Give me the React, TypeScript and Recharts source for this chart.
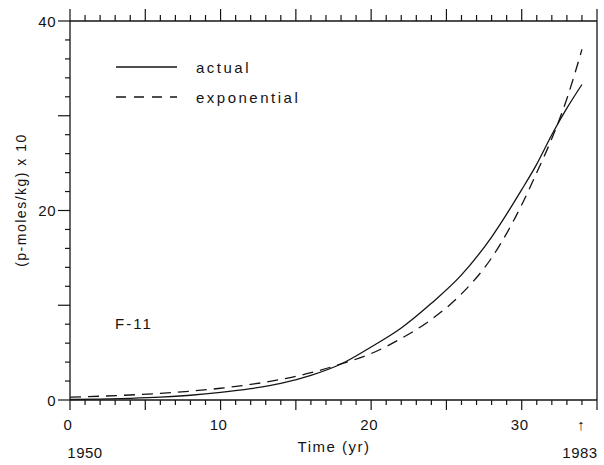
import { LineChart, Line, XAxis, YAxis } from "recharts";

// time since 1950 (yr) and concentration ((p-moles/kg) x 10)
const years = [0, 2, 4, 6, 8, 10, 12, 14, 16, 18, 20, 22, 24, 26, 28, 30, 31, 32, 33, 34];
const actual = [0.05, 0.1, 0.18, 0.3, 0.5, 0.8, 1.2, 1.75, 2.6, 3.8, 5.6, 7.6, 10.2, 13.2, 17.2, 22.2, 24.9, 28.0, 30.8, 33.3];
const exponential = [0.3, 0.4, 0.53, 0.7, 0.93, 1.24, 1.64, 2.17, 2.88, 3.8, 4.9, 6.5, 8.5, 11.2, 15.0, 20.6, 24.0, 27.6, 31.8, 37.0];

const xTicks = [0, 1, 2, 3, 4, 5, 6, 7, 8, 9, 10, 11, 12, 13, 14, 15, 16, 17, 18, 19, 20, 21, 22, 23, 24, 25, 26, 27, 28, 29, 30, 31, 32, 33, 34, 35];
const yTicks = [0, 2, 4, 6, 8, 10, 12, 14, 16, 18, 20, 22, 24, 26, 28, 30, 32, 34, 36, 38, 40];
const xLabelled = [0, 10, 20, 30];
const yLabelled = [0, 20, 40];

const data = years.map((t, i) => ({ t, actual: actual[i], exponential: exponential[i] }));

const FONT = "'Liberation Sans', Arial, sans-serif";
const INK = "#141414";
const DASH = "11 7";
const AXIS_LINE = { stroke: INK, strokeWidth: 1.3 };

const bottomTick = ({ x, y, payload, index }: any) => {
  const v = payload.value;
  const len = v % 5 === 0 ? 10 : 5;
  return (
    <g key={`b${index}`}>
      <line x1={x} y1={y} x2={x} y2={y + len} stroke={INK} strokeWidth={1.2} />
      <text x={x - 2} y={y + 24} textAnchor="middle" dominantBaseline="central" fontSize={15} fontFamily={FONT} fill={INK} letterSpacing={0.5}>
        {xLabelled.includes(v) ? String(v) : ""}
      </text>
    </g>
  );
};

const topTick = ({ x, y, payload, index }: any) => {
  const len = payload.value % 5 === 0 ? 12 : 6;
  return <line key={`t${index}`} x1={x} y1={y} x2={x} y2={y - len} stroke={INK} strokeWidth={1.2} />;
};

const leftTick = ({ x, y, payload, index }: any) => {
  const v = payload.value;
  const len = v % 10 === 0 ? 12 : 5;
  return (
    <g key={`l${index}`}>
      <line x1={x} y1={y} x2={x - len} y2={y} stroke={INK} strokeWidth={1.2} />
      <text x={x - 14} y={y} textAnchor="end" dominantBaseline="central" fontSize={15} fontFamily={FONT} fill={INK} letterSpacing={0.5}>
        {yLabelled.includes(v) ? String(v) : ""}
      </text>
    </g>
  );
};

const rightTick = ({ x, y, index }: any) => (
  <line key={`r${index}`} x1={x} y1={y} x2={x + 5} y2={y} stroke={INK} strokeWidth={1.2} />
);

// legend, panel tag and axis captions, laid over the chart
function Annotations() {
  const txt = { fontFamily: FONT, fill: INK, dominantBaseline: "central" as const };
  return (
    <svg width={604} height={465} style={{ position: "absolute", left: 0, top: 0, pointerEvents: "none" }}>
      <line x1={116} y1={67} x2={177} y2={67} stroke={INK} strokeWidth={1.3} />
      <text x={196} y={67} fontSize={15} letterSpacing={2.5} {...txt}>actual</text>
      <line x1={116} y1={97} x2={177} y2={97} stroke={INK} strokeWidth={1.3} strokeDasharray="10 8" />
      <text x={196} y={97} fontSize={15} letterSpacing={2.5} {...txt}>exponential</text>
      <text x={115} y={323} fontSize={15} letterSpacing={2} {...txt}>F-11</text>
      <text x={334} y={446} fontSize={15} letterSpacing={1.5} textAnchor="middle" {...txt}>Time (yr)</text>
      <text x={85} y={452} fontSize={15} letterSpacing={0.5} textAnchor="middle" {...txt}>1950</text>
      <text x={581} y={424} fontSize={15} textAnchor="middle" {...txt}>↑</text>
      <text x={580} y={452} fontSize={15} letterSpacing={0.5} textAnchor="middle" {...txt}>1983</text>
      <text x={21} y={200} fontSize={14} letterSpacing={1.5} textAnchor="middle" transform="rotate(-90 21 200)" {...txt}>
        (p-moles/kg) x 10
      </text>
    </svg>
  );
}

export default function App() {
  return (
    <div style={{ position: "absolute", left: 0, top: 0, width: 604, height: 465, background: "#fff" }}>
      <LineChart width={604} height={465} data={data} margin={{ top: 0, right: 0, bottom: 0, left: 0 }}>
        <XAxis dataKey="t" type="number" domain={[0, 35]} ticks={xTicks} interval={0} height={65} tickSize={0} tickMargin={0} axisLine={AXIS_LINE} tick={(p: any) => bottomTick(p)} />
        <XAxis xAxisId="top" orientation="top" dataKey="t" type="number" domain={[0, 35]} ticks={xTicks} interval={0} height={21} tickSize={0} tickMargin={0} axisLine={AXIS_LINE} tick={(p: any) => topTick(p)} />
        <YAxis type="number" domain={[0, 40]} ticks={yTicks} interval={0} width={70} tickSize={0} tickMargin={0} axisLine={AXIS_LINE} tick={(p: any) => leftTick(p)} />
        <YAxis yAxisId="right" orientation="right" type="number" domain={[0, 40]} ticks={yTicks} interval={0} width={7} tickSize={0} tickMargin={0} axisLine={AXIS_LINE} tick={(p: any) => rightTick(p)} />
        <Line type="monotone" dataKey="actual" stroke={INK} strokeWidth={1.3} dot={false} isAnimationActive={false} />
        <Line type="monotone" dataKey="exponential" stroke={INK} strokeWidth={1.3} strokeDasharray={DASH} dot={false} isAnimationActive={false} />
      </LineChart>
      <Annotations />
    </div>
  );
}
